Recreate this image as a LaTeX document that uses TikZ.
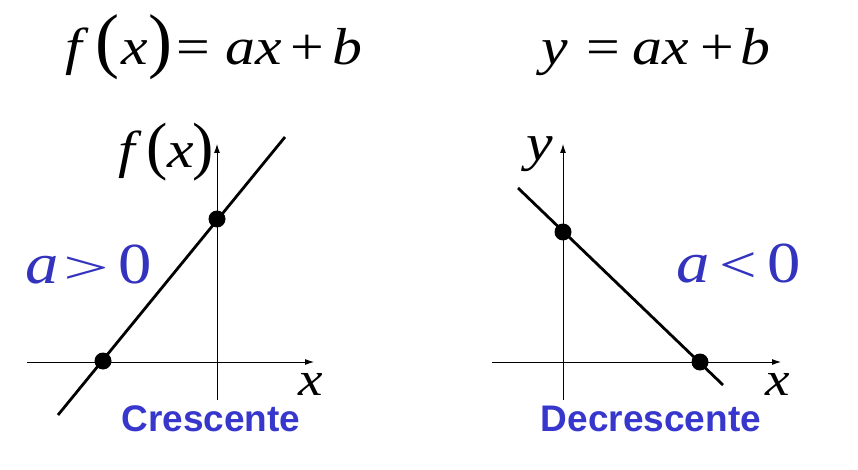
\documentclass[tikz,border=0pt]{standalone}
\usepackage{fontspec}
\usepackage{graphicx}
\setmainfont{Liberation Serif}
\newfontfamily\sansbold{Liberation Sans}
\usetikzlibrary{arrows.meta}
\definecolor{lblblue}{RGB}{51,51,190}
\definecolor{wordblue}{RGB}{55,55,205}
\newcommand{\gl}[2]{\makebox[#1pt][c]{#2}}
\newcommand{\sx}[1]{\scalebox{1.15}[1]{#1}}
\newcommand{\fs}[1]{\fontsize{#1}{#1}\selectfont}
\begin{document}
\begin{tikzpicture}[x=1pt,y=-1pt,
  axis/.style={line width=0.9pt,-{Latex[length=9pt,width=6pt]}},
  graphline/.style={line width=2.8pt},
  dot/.style={circle,fill=black,inner sep=0pt,minimum size=17pt},
  eq/.style={inner sep=0pt,anchor=base west},
  word/.style={inner sep=0pt,anchor=base,text=wordblue,font=\sansbold\bfseries\fs{37}}]
\useasboundingbox (0,0) rectangle (858,470);
% top equations
\node[eq] (eqA) at (58,65) {\fs{52}\gl{39}{\sx{\textit{f}}}\gl{21}{\fs{72}(}\gl{33}{\sx{\textit{x}}}\gl{18}{\fs{72})}\gl{49}{\sx{=}}\gl{71}{\sx{\textit{ax}}}\gl{37}{\sx{+}}\gl{43}{\sx{\textit{b}}}};
\node[eq] (eqB) at (540,65) {\fs{52}\gl{30}{\sx{\textit{y}}}\gl{67}{\sx{=}}\gl{47}{\sx{\textit{ax}}}\gl{67}{\sx{+}}\gl{9}{\sx{\textit{b}}}};
% left graph
\coordinate (Lxs) at (27,362); \coordinate (Lxe) at (314,362);
\coordinate (Lys) at (217,400); \coordinate (Lye) at (217,144);
\draw[axis] (Lxs) -- (Lxe);
\draw[axis] (Lys) -- (Lye);
\coordinate (La) at (58,415); \coordinate (Lb) at (285,137);
\draw[graphline] (La) -- (Lb);
\node[dot] (Ld1) at (103,361) {};
\node[dot] (Ld2) at (217,219) {};
\node[eq] (Lylab) at (118,168) {\fs{52}\gl{25}{\sx{\textit{f}}}\gl{28}{\fs{64}(}\gl{19}{\sx{\textit{x}}}\gl{25}{\fs{64})}};
\node[inner sep=0pt,anchor=base] (Lxlab) at (311,395) {\fs{48}\sx{\textit{x}}};
\node[eq,text=lblblue] (Lcond) at (26,283) {\fs{58}\gl{31}{\sx{\textit{a}}}\gl{59}{\scalebox{1.4}[0.8]{>}}\gl{38}{\sx{0}}};
\node[word] (Lword) at (211,431) {Crescente};
% right graph
\coordinate (Rxs) at (492,362); \coordinate (Rxe) at (781,362);
\coordinate (Rys) at (563,400); \coordinate (Rye) at (563,144);
\draw[axis] (Rxs) -- (Rxe);
\draw[axis] (Rys) -- (Rye);
\coordinate (Ra) at (518,188); \coordinate (Rb) at (723,385);
\draw[graphline] (Ra) -- (Rb);
\node[dot] (Rd1) at (563,232) {};
\node[dot] (Rd2) at (700,362) {};
\node[inner sep=0pt,anchor=base] (Rylab) at (540,161) {\fs{52}\sx{\textit{y}}};
\node[inner sep=0pt,anchor=base] (Rxlab) at (778,395) {\fs{48}\sx{\textit{x}}};
\node[eq,text=lblblue] (Rcond) at (676,282) {\fs{58}\gl{33}{\sx{\textit{a}}}\gl{58}{\scalebox{1.15}[0.9]{<}}\gl{34}{\sx{0}}};
\node[word] (Rword) at (651,431) {Decrescente};
\end{tikzpicture}
\end{document}
